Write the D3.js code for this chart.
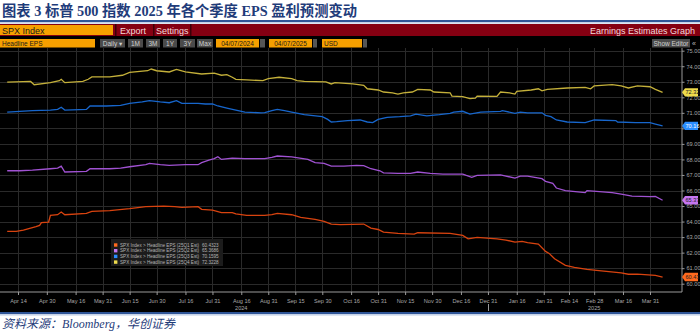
<!DOCTYPE html>
<html>
<head>
<meta charset="utf-8">
<script src="https://cdn.jsdelivr.net/npm/d3@7"></script>
<style>
  body { margin: 0; background: #fff; }
  svg { display: block; }
</style>
</head>
<body>
<svg id="chart" width="700" height="333"></svg>
<script>
// EPS estimates per quarter
var q1Points = [
  ["2024-04-08",63.37],["2024-04-13",63.37],["2024-04-17",63.45],["2024-04-21",63.58],["2024-04-24",63.67],
  ["2024-04-26",63.75],["2024-04-27",63.93],["2024-05-01",63.97],["2024-05-02",64.40],["2024-05-06",64.44],
  ["2024-05-08",64.61],["2024-05-10",64.44],["2024-05-22",64.53],["2024-05-25",64.66],["2024-06-04",64.70],
  ["2024-06-15",64.83],["2024-06-24",64.96],["2024-07-04",65.00],["2024-07-10",64.96],["2024-07-14",64.92],
  ["2024-07-23",64.96],["2024-07-25",64.79],["2024-07-31",64.74],["2024-08-05",64.57],["2024-08-11",64.57],
  ["2024-08-13",64.49],["2024-08-19",64.40],["2024-08-29",64.40],["2024-09-02",64.44],["2024-09-05",64.53],
  ["2024-09-13",64.44],["2024-09-18",64.27],["2024-09-26",64.14],["2024-10-01",64.01],["2024-10-05",63.84],
  ["2024-10-10",63.80],["2024-10-23",63.84],["2024-10-27",63.58],["2024-10-31",63.49],["2024-11-03",63.32],
  ["2024-11-11",63.24],["2024-11-20",63.19],["2024-11-22",63.28],["2024-12-10",63.24],["2024-12-17",63.11],
  ["2024-12-20",62.89],["2024-12-25",62.98],["2025-01-05",62.89],["2025-01-10",62.81],["2025-01-15",62.68],
  ["2025-01-19",62.72],["2025-01-22",62.64],["2025-01-28",62.55],["2025-02-01",62.08],["2025-02-03",61.95],
  ["2025-02-06",61.61],["2025-02-12",61.18],["2025-02-17",61.05],["2025-02-24",60.92],["2025-03-04",60.83],
  ["2025-03-15",60.70],["2025-03-19",60.61],["2025-03-24",60.61],["2025-03-30",60.57],["2025-04-03",60.53],
  ["2025-04-07",60.43]
];
var q2Points = [
  ["2024-04-08",67.27],["2024-04-15",67.27],["2024-04-22",67.31],["2024-05-02",67.40],["2024-05-06",67.44],
  ["2024-05-08",67.57],["2024-05-10",67.19],["2024-05-22",67.23],["2024-05-24",67.40],["2024-06-04",67.40],
  ["2024-06-10",67.44],["2024-06-15",67.53],["2024-06-24",67.66],["2024-06-26",67.75],["2024-07-02",67.66],
  ["2024-07-07",67.62],["2024-07-16",67.66],["2024-07-23",67.66],["2024-07-25",67.79],["2024-07-29",67.96],
  ["2024-08-01",68.05],["2024-08-03",68.17],["2024-08-05",68.00],["2024-08-11",68.09],["2024-08-18",68.05],
  ["2024-08-29",68.05],["2024-09-02",68.13],["2024-09-05",68.22],["2024-09-13",68.17],["2024-09-22",68.00],
  ["2024-09-26",67.79],["2024-10-01",67.75],["2024-10-05",67.57],["2024-10-12",67.57],["2024-10-19",67.62],
  ["2024-10-23",67.60],["2024-10-27",67.40],["2024-11-01",67.27],["2024-11-03",67.14],["2024-11-11",67.10],
  ["2024-11-18",67.10],["2024-11-22",67.19],["2024-11-29",67.10],["2024-12-06",67.06],["2024-12-17",67.06],
  ["2024-12-19",66.97],["2024-12-22",66.85],["2024-12-25",66.97],["2025-01-07",67.01],["2025-01-10",66.93],
  ["2025-01-15",66.80],["2025-01-18",66.93],["2025-01-22",66.93],["2025-01-30",66.76],["2025-02-01",66.59],
  ["2025-02-05",66.46],["2025-02-07",66.16],["2025-02-12",65.99],["2025-02-23",65.86],["2025-02-24",65.99],
  ["2025-03-10",65.86],["2025-03-15",65.77],["2025-03-21",65.64],["2025-03-31",65.60],["2025-04-03",65.62],
  ["2025-04-07",65.37]
];
var q3Points = [
  ["2024-04-08",71.05],["2024-04-15",71.10],["2024-04-22",71.14],["2024-05-02",71.18],["2024-05-06",71.22],
  ["2024-05-08",71.36],["2024-05-10",71.18],["2024-05-22",71.22],["2024-05-24",71.44],["2024-06-02",71.44],
  ["2024-06-10",71.48],["2024-06-15",71.61],["2024-06-22",71.70],["2024-06-26",71.78],["2024-07-02",71.70],
  ["2024-07-07",71.65],["2024-07-11",71.78],["2024-07-14",71.61],["2024-07-23",71.61],["2024-07-27",71.57],
  ["2024-07-31",71.57],["2024-08-03",71.44],["2024-08-08",71.31],["2024-08-13",71.18],["2024-08-18",71.05],
  ["2024-08-27",71.00],["2024-08-29",71.02],["2024-09-02",71.14],["2024-09-05",71.22],["2024-09-09",71.14],
  ["2024-09-13",71.05],["2024-09-20",70.88],["2024-09-30",70.75],["2024-10-03",70.58],["2024-10-05",70.41],
  ["2024-10-08",70.43],["2024-10-14",70.50],["2024-10-21",70.54],["2024-10-25",70.41],["2024-10-28",70.37],
  ["2024-10-31",70.58],["2024-11-05",70.71],["2024-11-12",70.75],["2024-11-18",70.80],["2024-11-21",70.92],
  ["2024-11-27",70.80],["2024-12-04",70.88],["2024-12-10",70.97],["2024-12-12",71.05],["2024-12-17",71.10],
  ["2024-12-21",70.92],["2024-12-27",71.05],["2025-01-07",71.10],["2025-01-08",71.14],["2025-01-15",70.97],
  ["2025-01-18",71.05],["2025-01-22",71.00],["2025-01-30",71.00],["2025-02-01",70.84],["2025-02-04",70.75],
  ["2025-02-07",70.54],["2025-02-13",70.41],["2025-02-23",70.37],["2025-02-28",70.54],["2025-03-12",70.50],
  ["2025-03-13",70.41],["2025-03-23",70.37],["2025-03-31",70.37],["2025-04-03",70.28],["2025-04-07",70.16]
];
var q4Points = [
  ["2024-04-08",72.98],["2024-04-21",73.02],["2024-04-23",72.81],["2024-05-02",72.94],["2024-05-07",73.07],
  ["2024-05-08",73.16],["2024-05-10",72.94],["2024-05-20",73.02],["2024-05-23",73.16],["2024-05-25",73.31],
  ["2024-06-04",73.31],["2024-06-11",73.42],["2024-06-15",73.60],["2024-06-25",73.71],["2024-06-27",73.82],
  ["2024-06-30",73.71],["2024-07-07",73.63],["2024-07-11",73.80],["2024-07-16",73.63],["2024-07-25",73.50],
  ["2024-08-01",73.55],["2024-08-05",73.42],["2024-08-08",73.46],["2024-08-11",73.29],["2024-08-13",73.16],
  ["2024-08-19",73.12],["2024-08-28",73.07],["2024-08-31",73.20],["2024-09-06",73.29],["2024-09-13",73.20],
  ["2024-09-16",73.07],["2024-09-20",73.03],["2024-10-02",72.99],["2024-10-05",72.86],["2024-10-07",72.94],
  ["2024-10-17",72.86],["2024-10-23",72.77],["2024-10-25",72.55],["2024-10-31",72.47],["2024-11-03",72.34],
  ["2024-11-08",72.29],["2024-11-11",72.21],["2024-11-14",72.29],["2024-11-19",72.34],["2024-11-22",72.51],
  ["2024-11-29",72.47],["2024-12-01",72.34],["2024-12-10",72.29],["2024-12-11",72.08],["2024-12-17",72.04],
  ["2024-12-21",71.91],["2024-12-24",71.95],["2024-12-25",72.08],["2025-01-05",72.06],["2025-01-07",72.34],
  ["2025-01-12",72.29],["2025-01-15",72.21],["2025-01-16",72.38],["2025-01-24",72.47],["2025-01-28",72.55],
  ["2025-01-30",72.42],["2025-02-02",72.51],["2025-02-13",72.60],["2025-02-23",72.64],["2025-02-26",72.55],
  ["2025-02-28",72.73],["2025-03-10",72.81],["2025-03-15",72.73],["2025-03-19",72.60],["2025-03-24",72.73],
  ["2025-03-31",72.68],["2025-04-03",72.51],["2025-04-07",72.32]
];

var seriesNames = ["25Q1", "25Q2", "25Q3", "25Q4"];
var legendValues = ["60.4323", "65.3686", "70.1595", "72.3228"];
var lastLabels = ["60.43", "65.37", "70.16", "72.32"];
var lineColors = ["#d8430f", "#a052d2", "#1766cc", "#c4b03a"];
var tagColors = ["#ff6a1e", "#c676f2", "#2a8dff", "#eedb4c"];

var xTickDates = ["2024-04-14","2024-04-30","2024-05-16","2024-05-31","2024-06-15","2024-06-30",
  "2024-07-16","2024-07-31","2024-08-16","2024-08-31","2024-09-15","2024-09-30","2024-10-16",
  "2024-10-31","2024-11-15","2024-11-30","2024-12-16","2024-12-31","2025-01-16","2025-01-31",
  "2025-02-14","2025-02-28","2025-03-16","2025-03-31"];
var yTicks = d3.range(60, 76);

var parse = d3.timeParse("%Y-%m-%d");
var fmtTick = d3.timeFormat("%b %-d");
var allSeries = [q1Points, q2Points, q3Points, q4Points].map(function(pts) {
  return pts.map(function(p) { return { date: parse(p[0]), value: p[1] }; });
});

var svg = d3.select("#chart");
var W = 700;
var plotTop = 48, plotBottom = 292, axisX = 682;

// --- report title ---
svg.append("text")
  .attr("x", 2).attr("y", 15.5)
  .style("font-family", "'Liberation Serif', 'Noto Sans CJK SC', serif")
  .style("font-weight", "bold").style("font-size", "14.3px")
  .style("fill", "#1f3c7a")
  .text("图表 3 标普 500 指数 2025 年各个季度 EPS 盈利预测变动");

function rule(y) {
  svg.append("rect").attr("x", 0).attr("y", y).attr("width", W).attr("height", 2).attr("fill", "#2f5597");
  svg.append("rect").attr("x", 0).attr("y", y + 2.5).attr("width", W).attr("height", 0.8).attr("fill", "#8da6cf");
}
rule(20);

// --- bloomberg header bars ---
var uiFont = "'Liberation Sans', 'DejaVu Sans', sans-serif";
svg.append("rect").attr("x", 0).attr("y", 24).attr("width", W).attr("height", 12).attr("fill", "#850012");
svg.append("rect").attr("x", 0).attr("y", 25).attr("width", 113).attr("height", 10).attr("fill", "#f6a000");
[115, 153, 190].forEach(function(x) {
  svg.append("rect").attr("x", x).attr("y", 24).attr("width", 1.5).attr("height", 12).attr("fill", "#3c0008");
});
function uiText(x, y, s, size, color, anchor) {
  return svg.append("text").attr("x", x).attr("y", y)
    .attr("text-anchor", anchor || "start")
    .style("font-family", uiFont).style("font-size", size + "px")
    .style("fill", color).text(s);
}
uiText(2, 33.5, "SPX Index", 9, "#1a1a1a");
uiText(120, 33.5, "Export", 9, "#f2dada");
uiText(156, 33.5, "Settings", 9, "#f2dada");
uiText(695, 33.5, "Earnings Estimates Graph", 9, "#f2dada", "end");

// black screen area
svg.append("rect").attr("x", 0).attr("y", 36).attr("width", W).attr("height", 276).attr("fill", "#000");

// toolbar row
var boxes = [
  { x: 0, w: 95, fill: "#f6a000", text: "Headline EPS", color: "#1a1a1a", anchor: "start" },
  { x: 100, w: 25, fill: "#4a4a4a", text: "Daily ▾", color: "#cfcfcf" },
  { x: 128, w: 15, fill: "#4a4a4a", text: "1M", color: "#cfcfcf" },
  { x: 146, w: 14, fill: "#4a4a4a", text: "3M", color: "#cfcfcf" },
  { x: 163, w: 14, fill: "#4a4a4a", text: "1Y", color: "#cfcfcf" },
  { x: 180, w: 15, fill: "#4a4a4a", text: "3Y", color: "#cfcfcf" },
  { x: 197, w: 16, fill: "#4a4a4a", text: "Max", color: "#cfcfcf" },
  { x: 216, w: 43, fill: "#f6a000", text: "04/07/2024", color: "#1a1a1a" },
  { x: 260, w: 5, fill: "#555", text: "", color: "#ccc" },
  { x: 269, w: 43, fill: "#f6a000", text: "04/07/2025", color: "#1a1a1a" },
  { x: 313, w: 4, fill: "#555", text: "", color: "#ccc" },
  { x: 322, w: 40, fill: "#f6a000", text: "USD", color: "#1a1a1a", anchor: "start" },
  { x: 363, w: 4, fill: "#555", text: "", color: "#ccc" },
  { x: 652, w: 38, fill: "#4a4a4a", text: "Show Editor", color: "#cfcfcf" }
];
boxes.forEach(function(b) {
  svg.append("rect").attr("x", b.x).attr("y", 39).attr("width", b.w).attr("height", 8.5).attr("fill", b.fill);
  if (b.text) {
    if (b.anchor === "start") uiText(b.x + 2, 45.6, b.text, 6.5, b.color);
    else uiText(b.x + b.w / 2, 45.6, b.text, 6.5, b.color, "middle");
  }
});
uiText(694, 45.6, "«", 7, "#bbbbbb", "middle");

// --- scales ---
var x = d3.scaleTime()
  .domain([parse("2024-04-07"), parse("2025-04-07")])
  .range([5.4, 662.6]);
var y = d3.scaleLinear().domain([60, 75]).range([283.7, 50.7]);

var grid = svg.append("g");
grid.selectAll(".hg").data(yTicks).enter().append("line")
  .attr("x1", 0).attr("x2", axisX)
  .attr("y1", function(d) { return Math.round(y(d)) + 0.5; })
  .attr("y2", function(d) { return Math.round(y(d)) + 0.5; })
  .attr("stroke", "#2a2a2a").attr("stroke-width", 1);
grid.selectAll(".vg").data(xTickDates).enter().append("line")
  .attr("x1", function(d) { return Math.round(x(parse(d))) + 0.5; })
  .attr("x2", function(d) { return Math.round(x(parse(d))) + 0.5; })
  .attr("y1", plotTop).attr("y2", plotBottom)
  .attr("stroke", "#2a2a2a").attr("stroke-width", 1);

// --- lines ---
var line = d3.line()
  .x(function(d) { return x(d.date); })
  .y(function(d) { return y(d.value); });
svg.selectAll(".series").data(allSeries).enter().append("path")
  .attr("d", line)
  .attr("fill", "none")
  .attr("stroke", function(d, i) { return lineColors[i]; })
  .attr("stroke-width", 1.3);

// --- axes (right and bottom) ---
var tagYs = allSeries.map(function(s) { return y(s[s.length - 1].value); });
var yAxis = svg.append("g")
  .attr("transform", "translate(" + axisX + ",0)")
  .call(d3.axisRight(y).tickValues(yTicks).tickSize(2.5).tickPadding(2)
    .tickFormat(d3.format(".2f")));
var xAxis = svg.append("g")
  .attr("transform", "translate(0," + plotBottom + ")")
  .call(d3.axisBottom(x).tickValues(xTickDates.map(parse)).tickSize(3).tickPadding(4)
    .tickFormat(fmtTick));
[yAxis, xAxis].forEach(function(a) {
  a.select(".domain").attr("stroke", "#9a9a9a");
  a.selectAll(".tick line").attr("stroke", "#9a9a9a");
  a.selectAll("text").style("font-family", uiFont).style("font-size", "5.6px").style("fill", "#a8a8a8");
});
// labels hidden under the value tags, as on the screen
yAxis.selectAll(".tick text").filter(function(d) {
  return tagYs.some(function(t) { return Math.abs(y(d) - t) < 4.6; });
}).remove();
yAxis.select(".domain").attr("d", "M0," + plotTop + "V" + plotBottom);
xAxis.select(".domain").attr("d", "M0,0H" + axisX);

// year marks
var years = [["2024", "2024-08-16"], ["2025", "2025-02-28"]];
years.forEach(function(yr) {
  uiText(x(parse(yr[1])), 310, yr[0], 5.6, "#a8a8a8", "middle");
});
var yearX = Math.round(x(parse("2024-12-31"))) + 0.5;
svg.append("line")
  .attr("x1", yearX).attr("x2", yearX)
  .attr("y1", 304).attr("y2", 311)
  .attr("stroke", "#9a9a9a");

// --- last value tags ---
allSeries.forEach(function(s, i) {
  var ty = tagYs[i];
  svg.append("path")
    .attr("d", "M" + axisX + "," + ty + "L" + (axisX + 3) + "," + (ty - 4.2) + "H698V" + (ty + 4.2) + "H" + (axisX + 3) + "Z")
    .attr("fill", tagColors[i]);
  uiText(axisX + 3.5, ty + 2, lastLabels[i], 5.6, i === 2 ? "#ffffff" : "#202020");
});

// --- legend ---
var lg = svg.append("g").attr("transform", "translate(111,239)");
lg.append("rect").attr("width", 112).attr("height", 27).attr("fill", "#1c1c1c");
seriesNames.forEach(function(n, i) {
  var ry = 6 + i * 5.7;
  lg.append("rect").attr("x", 3).attr("y", ry - 1.7).attr("width", 3.4).attr("height", 3.4)
    .attr("fill", tagColors[i]);
  lg.append("text").attr("x", 9).attr("y", ry + 1.6)
    .style("font-family", uiFont).style("font-size", "4.6px").style("fill", "#b4b4b4")
    .text("SPX Index > Headline EPS (" + n + " Est)");
  lg.append("text").attr("x", 91).attr("y", ry + 1.6)
    .style("font-family", uiFont).style("font-size", "4.6px").style("fill", "#b4b4b4")
    .text(legendValues[i]);
});

// --- source ---
rule(312);
svg.append("text")
  .attr("x", 2).attr("y", 328)
  .style("font-family", "'Liberation Serif', 'Noto Sans CJK SC', serif")
  .style("font-style", "italic").style("font-size", "12px")
  .style("fill", "#1f3c7a")
  .text("资料来源：Bloomberg，华创证券");
</script>
</body>
</html>
